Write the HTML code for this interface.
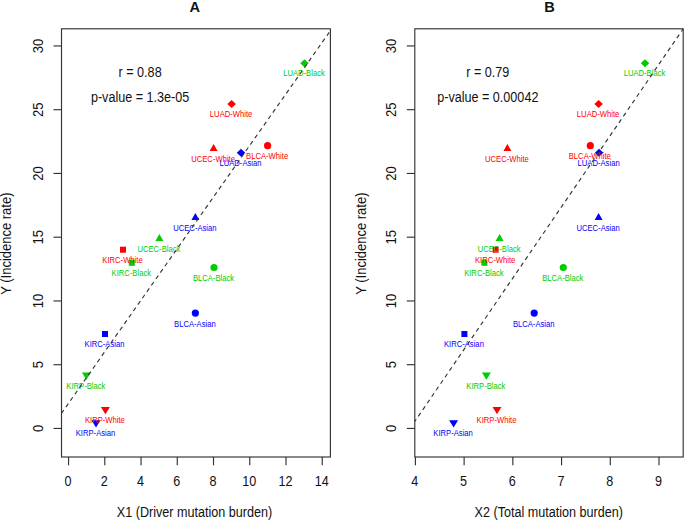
<!DOCTYPE html>
<html><head><meta charset="utf-8"><style>
html,body{margin:0;padding:0;background:#fff;overflow:hidden;}
svg{display:block;}
text{font-family:"Liberation Sans",sans-serif;}
</style></head><body>
<svg width="685" height="520" viewBox="0 0 685 520">
<rect width="685" height="520" fill="#fff"/>
<clipPath id="ca"><rect x="61.5" y="28.8" width="268.9" height="428.2"/></clipPath>
<circle cx="195.35" cy="313.1" r="3.6" fill="#0000ff"/>
<circle cx="214" cy="267.5" r="3.6" fill="#00cd00"/>
<circle cx="267.6" cy="145.7" r="3.6" fill="#ff0000"/>
<rect x="102.00" y="331.00" width="6.0" height="6.0" fill="#0000ff"/>
<rect x="128.80" y="259.80" width="6.0" height="6.0" fill="#00cd00"/>
<rect x="120.00" y="246.70" width="6.0" height="6.0" fill="#ff0000"/>
<polygon points="96,427.53 100.50,420.23 91.50,420.23" fill="#0000ff"/>
<polygon points="86.4,379.83 90.90,372.53 81.90,372.53" fill="#00cd00"/>
<polygon points="105.4,414.23 109.90,406.93 100.90,406.93" fill="#ff0000"/>
<polygon points="241,148.85 245.25,152.85 241,156.85 236.75,152.85" fill="#0000ff"/>
<polygon points="304.5,59.15 308.75,63.15 304.5,67.15 300.25,63.15" fill="#00cd00"/>
<polygon points="231.6,100.05 235.85,104.05 231.6,108.05 227.35,104.05" fill="#ff0000"/>
<polygon points="195.4,213.00 199.35,219.90 191.45,219.90" fill="#0000ff"/>
<polygon points="159.4,234.00 163.35,240.90 155.45,240.90" fill="#00cd00"/>
<polygon points="213.6,144.00 217.55,150.90 209.65,150.90" fill="#ff0000"/>
<text transform="translate(194.85,326.90) scale(1,1.09)" font-size="7.65" fill="#0000ff" text-anchor="middle">BLCA-Asian</text>
<text transform="translate(213.50,280.60) scale(1,1.09)" font-size="7.65" fill="#00cd00" text-anchor="middle">BLCA-Black</text>
<text transform="translate(267.10,158.80) scale(1,1.09)" font-size="7.65" fill="#ff0000" text-anchor="middle">BLCA-White</text>
<text transform="translate(104.50,347.30) scale(1,1.09)" font-size="7.65" fill="#0000ff" text-anchor="middle">KIRC-Asian</text>
<text transform="translate(131.30,275.60) scale(1,1.09)" font-size="7.65" fill="#00cd00" text-anchor="middle">KIRC-Black</text>
<text transform="translate(122.50,262.60) scale(1,1.09)" font-size="7.65" fill="#ff0000" text-anchor="middle">KIRC-White</text>
<text transform="translate(95.50,435.60) scale(1,1.09)" font-size="7.65" fill="#0000ff" text-anchor="middle">KIRP-Asian</text>
<text transform="translate(85.90,388.60) scale(1,1.09)" font-size="7.65" fill="#00cd00" text-anchor="middle">KIRP-Black</text>
<text transform="translate(104.90,422.70) scale(1,1.09)" font-size="7.65" fill="#ff0000" text-anchor="middle">KIRP-White</text>
<text transform="translate(240.50,165.80) scale(1,1.09)" font-size="7.65" fill="#0000ff" text-anchor="middle">LUAD-Asian</text>
<text transform="translate(304.00,76.00) scale(1,1.09)" font-size="7.65" fill="#00cd00" text-anchor="middle">LUAD-Black</text>
<text transform="translate(231.10,117.40) scale(1,1.09)" font-size="7.65" fill="#ff0000" text-anchor="middle">LUAD-White</text>
<text transform="translate(194.90,231.00) scale(1,1.09)" font-size="7.65" fill="#0000ff" text-anchor="middle">UCEC-Asian</text>
<text transform="translate(158.90,252.00) scale(1,1.09)" font-size="7.65" fill="#00cd00" text-anchor="middle">UCEC-Black</text>
<text transform="translate(213.10,162.00) scale(1,1.09)" font-size="7.65" fill="#ff0000" text-anchor="middle">UCEC-White</text>
<line x1="61.5" y1="413.3" x2="340.5" y2="16.283000000000015" stroke="#333" stroke-width="1.15" stroke-dasharray="4.2 3.625" stroke-dashoffset="0.2" clip-path="url(#ca)"/>
<rect x="61.5" y="28.8" width="268.9" height="428.2" fill="none" stroke="#333" stroke-width="1.15"/>
<line x1="53.5" y1="428.45" x2="61.5" y2="428.45" stroke="#333" stroke-width="1.15"/>
<text transform="translate(43.30,428.45) rotate(-90) scale(1,1.14)" font-size="13.0" fill="#111" text-anchor="middle">0</text>
<line x1="53.5" y1="364.70" x2="61.5" y2="364.70" stroke="#333" stroke-width="1.15"/>
<text transform="translate(43.30,364.70) rotate(-90) scale(1,1.14)" font-size="13.0" fill="#111" text-anchor="middle">5</text>
<line x1="53.5" y1="300.95" x2="61.5" y2="300.95" stroke="#333" stroke-width="1.15"/>
<text transform="translate(43.30,300.95) rotate(-90) scale(1,1.14)" font-size="13.0" fill="#111" text-anchor="middle">10</text>
<line x1="53.5" y1="237.20" x2="61.5" y2="237.20" stroke="#333" stroke-width="1.15"/>
<text transform="translate(43.30,237.20) rotate(-90) scale(1,1.14)" font-size="13.0" fill="#111" text-anchor="middle">15</text>
<line x1="53.5" y1="173.45" x2="61.5" y2="173.45" stroke="#333" stroke-width="1.15"/>
<text transform="translate(43.30,173.45) rotate(-90) scale(1,1.14)" font-size="13.0" fill="#111" text-anchor="middle">20</text>
<line x1="53.5" y1="109.70" x2="61.5" y2="109.70" stroke="#333" stroke-width="1.15"/>
<text transform="translate(43.30,109.70) rotate(-90) scale(1,1.14)" font-size="13.0" fill="#111" text-anchor="middle">25</text>
<line x1="53.5" y1="45.95" x2="61.5" y2="45.95" stroke="#333" stroke-width="1.15"/>
<text transform="translate(43.30,45.95) rotate(-90) scale(1,1.14)" font-size="13.0" fill="#111" text-anchor="middle">30</text>
<line x1="68.55" y1="457.0" x2="68.55" y2="465.3" stroke="#333" stroke-width="1.15"/>
<text transform="translate(67.95,485.80) scale(1,1.13)" font-size="12.6" fill="#111" text-anchor="middle">0</text>
<line x1="104.79" y1="457.0" x2="104.79" y2="465.3" stroke="#333" stroke-width="1.15"/>
<text transform="translate(104.19,485.80) scale(1,1.13)" font-size="12.6" fill="#111" text-anchor="middle">2</text>
<line x1="141.03" y1="457.0" x2="141.03" y2="465.3" stroke="#333" stroke-width="1.15"/>
<text transform="translate(140.43,485.80) scale(1,1.13)" font-size="12.6" fill="#111" text-anchor="middle">4</text>
<line x1="177.27" y1="457.0" x2="177.27" y2="465.3" stroke="#333" stroke-width="1.15"/>
<text transform="translate(176.67,485.80) scale(1,1.13)" font-size="12.6" fill="#111" text-anchor="middle">6</text>
<line x1="213.51" y1="457.0" x2="213.51" y2="465.3" stroke="#333" stroke-width="1.15"/>
<text transform="translate(212.91,485.80) scale(1,1.13)" font-size="12.6" fill="#111" text-anchor="middle">8</text>
<line x1="249.75" y1="457.0" x2="249.75" y2="465.3" stroke="#333" stroke-width="1.15"/>
<text transform="translate(249.15,485.80) scale(1,1.13)" font-size="12.6" fill="#111" text-anchor="middle">10</text>
<line x1="285.99" y1="457.0" x2="285.99" y2="465.3" stroke="#333" stroke-width="1.15"/>
<text transform="translate(285.39,485.80) scale(1,1.13)" font-size="12.6" fill="#111" text-anchor="middle">12</text>
<line x1="322.23" y1="457.0" x2="322.23" y2="465.3" stroke="#333" stroke-width="1.15"/>
<text transform="translate(321.63,485.80) scale(1,1.13)" font-size="12.6" fill="#111" text-anchor="middle">14</text>
<text transform="translate(194.65,11.80) scale(1,1.06)" font-size="14.6" fill="#111" text-anchor="middle" font-weight="bold">A</text>
<text transform="translate(194.50,516.50) scale(1,1.13)" font-size="12.6" fill="#111" text-anchor="middle">X1 (Driver mutation burden)</text>
<text transform="translate(11.20,243.65) rotate(-90) scale(1,1.12)" font-size="13.0" fill="#111" text-anchor="middle">Y (Incidence rate)</text>
<text transform="translate(140.10,76.80) scale(1,1.13)" font-size="12.6" fill="#111" text-anchor="middle">r = 0.88</text>
<text transform="translate(140.10,101.90) scale(1,1.13)" font-size="12.6" fill="#111" text-anchor="middle">p-value = 1.3e-05</text>
<clipPath id="cb"><rect x="414.8" y="28.8" width="268.40000000000003" height="428.2"/></clipPath>
<circle cx="534.2" cy="313.1" r="3.6" fill="#0000ff"/>
<circle cx="563.3" cy="267.5" r="3.6" fill="#00cd00"/>
<circle cx="590.3" cy="145.7" r="3.6" fill="#ff0000"/>
<rect x="461.40" y="331.00" width="6.0" height="6.0" fill="#0000ff"/>
<rect x="481.40" y="259.80" width="6.0" height="6.0" fill="#00cd00"/>
<rect x="492.60" y="246.70" width="6.0" height="6.0" fill="#ff0000"/>
<polygon points="453.6,427.53 458.10,420.23 449.10,420.23" fill="#0000ff"/>
<polygon points="486.4,379.83 490.90,372.53 481.90,372.53" fill="#00cd00"/>
<polygon points="497,414.23 501.50,406.93 492.50,406.93" fill="#ff0000"/>
<polygon points="599.1,148.85 603.35,152.85 599.1,156.85 594.85,152.85" fill="#0000ff"/>
<polygon points="645,59.15 649.25,63.15 645,67.15 640.75,63.15" fill="#00cd00"/>
<polygon points="598.6,100.05 602.85,104.05 598.6,108.05 594.35,104.05" fill="#ff0000"/>
<polygon points="598.6,213.00 602.55,219.90 594.65,219.90" fill="#0000ff"/>
<polygon points="499.6,234.00 503.55,240.90 495.65,240.90" fill="#00cd00"/>
<polygon points="507.4,144.00 511.35,150.90 503.45,150.90" fill="#ff0000"/>
<text transform="translate(533.70,326.90) scale(1,1.09)" font-size="7.65" fill="#0000ff" text-anchor="middle">BLCA-Asian</text>
<text transform="translate(562.80,280.60) scale(1,1.09)" font-size="7.65" fill="#00cd00" text-anchor="middle">BLCA-Black</text>
<text transform="translate(589.80,158.80) scale(1,1.09)" font-size="7.65" fill="#ff0000" text-anchor="middle">BLCA-White</text>
<text transform="translate(463.90,347.30) scale(1,1.09)" font-size="7.65" fill="#0000ff" text-anchor="middle">KIRC-Asian</text>
<text transform="translate(483.90,275.60) scale(1,1.09)" font-size="7.65" fill="#00cd00" text-anchor="middle">KIRC-Black</text>
<text transform="translate(495.10,262.60) scale(1,1.09)" font-size="7.65" fill="#ff0000" text-anchor="middle">KIRC-White</text>
<text transform="translate(453.10,435.60) scale(1,1.09)" font-size="7.65" fill="#0000ff" text-anchor="middle">KIRP-Asian</text>
<text transform="translate(485.90,388.60) scale(1,1.09)" font-size="7.65" fill="#00cd00" text-anchor="middle">KIRP-Black</text>
<text transform="translate(496.50,422.70) scale(1,1.09)" font-size="7.65" fill="#ff0000" text-anchor="middle">KIRP-White</text>
<text transform="translate(598.60,165.80) scale(1,1.09)" font-size="7.65" fill="#0000ff" text-anchor="middle">LUAD-Asian</text>
<text transform="translate(644.50,76.00) scale(1,1.09)" font-size="7.65" fill="#00cd00" text-anchor="middle">LUAD-Black</text>
<text transform="translate(598.10,117.40) scale(1,1.09)" font-size="7.65" fill="#ff0000" text-anchor="middle">LUAD-White</text>
<text transform="translate(598.10,231.00) scale(1,1.09)" font-size="7.65" fill="#0000ff" text-anchor="middle">UCEC-Asian</text>
<text transform="translate(499.10,252.00) scale(1,1.09)" font-size="7.65" fill="#00cd00" text-anchor="middle">UCEC-Black</text>
<text transform="translate(506.90,162.00) scale(1,1.09)" font-size="7.65" fill="#ff0000" text-anchor="middle">UCEC-White</text>
<line x1="414.8" y1="421.45" x2="693.2" y2="14.150800000000004" stroke="#333" stroke-width="1.15" stroke-dasharray="4.2 3.7" stroke-dashoffset="1.7" clip-path="url(#cb)"/>
<rect x="414.8" y="28.8" width="268.40000000000003" height="428.2" fill="none" stroke="#333" stroke-width="1.15"/>
<line x1="406.8" y1="428.45" x2="414.8" y2="428.45" stroke="#333" stroke-width="1.15"/>
<text transform="translate(395.90,428.45) rotate(-90) scale(1,1.14)" font-size="13.0" fill="#111" text-anchor="middle">0</text>
<line x1="406.8" y1="364.70" x2="414.8" y2="364.70" stroke="#333" stroke-width="1.15"/>
<text transform="translate(395.90,364.70) rotate(-90) scale(1,1.14)" font-size="13.0" fill="#111" text-anchor="middle">5</text>
<line x1="406.8" y1="300.95" x2="414.8" y2="300.95" stroke="#333" stroke-width="1.15"/>
<text transform="translate(395.90,300.95) rotate(-90) scale(1,1.14)" font-size="13.0" fill="#111" text-anchor="middle">10</text>
<line x1="406.8" y1="237.20" x2="414.8" y2="237.20" stroke="#333" stroke-width="1.15"/>
<text transform="translate(395.90,237.20) rotate(-90) scale(1,1.14)" font-size="13.0" fill="#111" text-anchor="middle">15</text>
<line x1="406.8" y1="173.45" x2="414.8" y2="173.45" stroke="#333" stroke-width="1.15"/>
<text transform="translate(395.90,173.45) rotate(-90) scale(1,1.14)" font-size="13.0" fill="#111" text-anchor="middle">20</text>
<line x1="406.8" y1="109.70" x2="414.8" y2="109.70" stroke="#333" stroke-width="1.15"/>
<text transform="translate(395.90,109.70) rotate(-90) scale(1,1.14)" font-size="13.0" fill="#111" text-anchor="middle">25</text>
<line x1="406.8" y1="45.95" x2="414.8" y2="45.95" stroke="#333" stroke-width="1.15"/>
<text transform="translate(395.90,45.95) rotate(-90) scale(1,1.14)" font-size="13.0" fill="#111" text-anchor="middle">30</text>
<line x1="415.40" y1="457.0" x2="415.40" y2="465.3" stroke="#333" stroke-width="1.15"/>
<text transform="translate(414.80,485.80) scale(1,1.13)" font-size="12.6" fill="#111" text-anchor="middle">4</text>
<line x1="464.12" y1="457.0" x2="464.12" y2="465.3" stroke="#333" stroke-width="1.15"/>
<text transform="translate(463.52,485.80) scale(1,1.13)" font-size="12.6" fill="#111" text-anchor="middle">5</text>
<line x1="512.84" y1="457.0" x2="512.84" y2="465.3" stroke="#333" stroke-width="1.15"/>
<text transform="translate(512.24,485.80) scale(1,1.13)" font-size="12.6" fill="#111" text-anchor="middle">6</text>
<line x1="561.56" y1="457.0" x2="561.56" y2="465.3" stroke="#333" stroke-width="1.15"/>
<text transform="translate(560.96,485.80) scale(1,1.13)" font-size="12.6" fill="#111" text-anchor="middle">7</text>
<line x1="610.28" y1="457.0" x2="610.28" y2="465.3" stroke="#333" stroke-width="1.15"/>
<text transform="translate(609.68,485.80) scale(1,1.13)" font-size="12.6" fill="#111" text-anchor="middle">8</text>
<line x1="659.00" y1="457.0" x2="659.00" y2="465.3" stroke="#333" stroke-width="1.15"/>
<text transform="translate(658.40,485.80) scale(1,1.13)" font-size="12.6" fill="#111" text-anchor="middle">9</text>
<text transform="translate(549.60,11.80) scale(1,1.06)" font-size="14.6" fill="#111" text-anchor="middle" font-weight="bold">B</text>
<text transform="translate(548.80,516.50) scale(1,1.13)" font-size="12.6" fill="#111" text-anchor="middle">X2 (Total mutation burden)</text>
<text transform="translate(365.90,243.65) rotate(-90) scale(1,1.12)" font-size="13.0" fill="#111" text-anchor="middle">Y (Incidence rate)</text>
<text transform="translate(487.80,76.80) scale(1,1.13)" font-size="12.6" fill="#111" text-anchor="middle">r = 0.79</text>
<text transform="translate(487.80,101.90) scale(1,1.13)" font-size="12.6" fill="#111" text-anchor="middle">p-value = 0.00042</text>
</svg>
</body></html>
